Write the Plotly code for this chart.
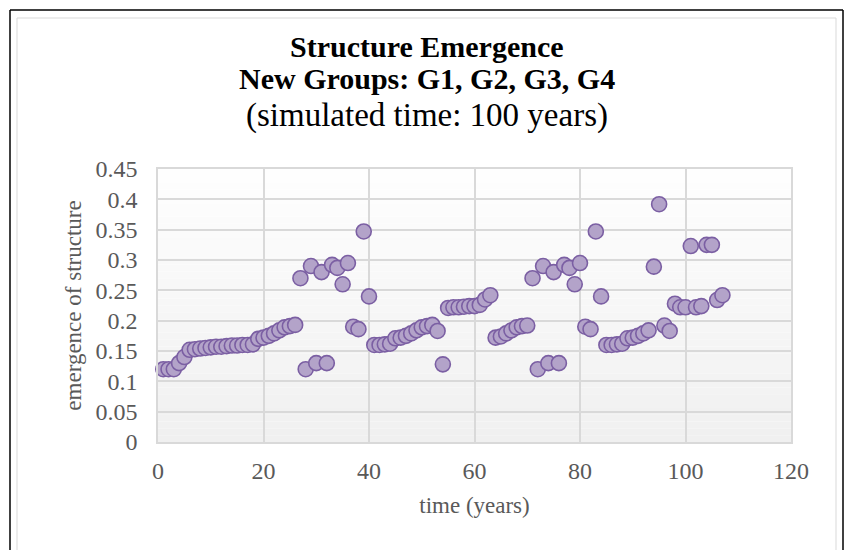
import plotly.graph_objects as go

# Simulated years and the measured emergence-of-structure values
years = list(range(1, 108))
emergence = [
    0.12, 0.12, 0.12, 0.13, 0.14, 0.152, 0.153, 0.154, 0.155, 0.156,
    0.157, 0.157, 0.158, 0.159, 0.159, 0.16, 0.16, 0.161, 0.17, 0.172,
    0.175, 0.179, 0.184, 0.189, 0.191, 0.193, 0.27, 0.12, 0.29, 0.13,
    0.28, 0.13, 0.292, 0.287, 0.26, 0.295, 0.19, 0.186, 0.347, 0.24,
    0.16, 0.16, 0.161, 0.162, 0.171, 0.172, 0.175, 0.179, 0.184, 0.189,
    0.191, 0.193, 0.183, 0.128, 0.221, 0.222, 0.222, 0.223, 0.224, 0.224,
    0.226, 0.235, 0.242, 0.172, 0.174, 0.179, 0.184, 0.189, 0.191, 0.192,
    0.27, 0.12, 0.29, 0.13, 0.28, 0.13, 0.292, 0.287, 0.26, 0.295,
    0.19, 0.186, 0.347, 0.24, 0.16, 0.16, 0.161, 0.162, 0.171, 0.172,
    0.175, 0.179, 0.184, 0.289, 0.392, 0.192, 0.183, 0.228, 0.222, 0.222,
    0.323, 0.222, 0.224, 0.325, 0.325, 0.234, 0.242,
]

# (text, vertical centre in pixels from the top, font size)
title_lines = [
    ("<b>Structure Emergence</b>", 46, 30),
    ("<b>New Groups: G1, G2, G3, G4</b>", 78, 30),
    ("(simulated time: 100 years)", 115, 33),
]

SERIF = "Liberation Serif, Times New Roman, serif"
GRID = "#d9d9d9"
TEXT = "#595959"

# Plot area geometry (pixels) used to place the frame in paper units
W, H = 844, 550
L, R, T, B = 158, 53, 169, 108
PW, PH = W - L - R, H - T - B


def px_to_paper_x(px):
    return (px - L) / PW


def px_to_paper_y(py):
    return (H - B - py) / PH


fig = go.Figure()
fig.add_trace(go.Scatter(
    x=years, y=emergence, mode="markers",
    marker=dict(size=15, color="#b3a3c9",
                line=dict(color="#7b5fa3", width=1.6)),
    showlegend=False, cliponaxis=False,
))

shapes = []
# vertical soft gradient behind the plot area
steps = 40
for i in range(steps):
    f = i / (steps - 1)
    g = int(round(0xf0 + (0xfe - 0xf0) * f))
    col = f"rgb({g},{g},{g})"
    shapes.append(dict(type="rect", xref="paper", yref="paper",
                       x0=0, x1=1, y0=i / steps, y1=(i + 1) / steps,
                       fillcolor=col, line=dict(width=0), layer="below"))

# light chart-area border
shapes.append(dict(type="rect", xref="paper", yref="paper",
                   x0=px_to_paper_x(17), x1=px_to_paper_x(836),
                   y0=px_to_paper_y(560), y1=px_to_paper_y(18),
                   line=dict(color="#d9d9d9", width=1), fillcolor="rgba(0,0,0,0)",
                   layer="below"))
# outer black frame (left, top, right)
for x0, y0, x1, y1 in [(10, 10, 10, 560), (10, 10, 843, 10), (843, 10, 843, 560)]:
    shapes.append(dict(type="line", xref="paper", yref="paper",
                       x0=px_to_paper_x(x0), x1=px_to_paper_x(x1),
                       y0=px_to_paper_y(y0), y1=px_to_paper_y(y1),
                       line=dict(color="#000000", width=1.5)))

# title is centred on the chart area rather than the plot area
title_x = px_to_paper_x(427)
annotations = []
for text, ypx, fs in title_lines:
    annotations.append(dict(text=text, xref="paper", yref="paper",
                            x=title_x, y=px_to_paper_y(ypx),
                            xanchor="center", yanchor="middle",
                            showarrow=False,
                            font=dict(family=SERIF, size=fs, color="#000000")))

fig.update_layout(
    width=W, height=H,
    margin=dict(l=L, r=R, t=T, b=B),
    paper_bgcolor="#ffffff",
    plot_bgcolor="rgba(0,0,0,0)",
    shapes=shapes,
    annotations=annotations,
    font=dict(family=SERIF, color=TEXT, size=24),
    xaxis=dict(
        range=[0, 120], dtick=20, tick0=0,
        showgrid=True, gridcolor=GRID, gridwidth=1.5,
        zeroline=False, showline=True, linecolor=GRID, linewidth=1.5, mirror=True,
        ticks="outside", ticklen=6, tickcolor="rgba(0,0,0,0)",
        tickfont=dict(family=SERIF, size=24, color=TEXT),
        title=dict(text="time (years)", standoff=14,
                   font=dict(family=SERIF, size=23, color=TEXT)),
    ),
    yaxis=dict(
        range=[0, 0.45], dtick=0.05, tick0=0,
        showgrid=True, gridcolor=GRID, gridwidth=1.5,
        zeroline=False, showline=True, linecolor=GRID, linewidth=1.5, mirror=True,
        ticks="outside", ticklen=14, tickcolor="rgba(0,0,0,0)",
        tickfont=dict(family=SERIF, size=24, color=TEXT),
        title=dict(text="emergence of structure", standoff=7,
                   font=dict(family=SERIF, size=23, color=TEXT)),
    ),
)

fig.write_html("out.html")
